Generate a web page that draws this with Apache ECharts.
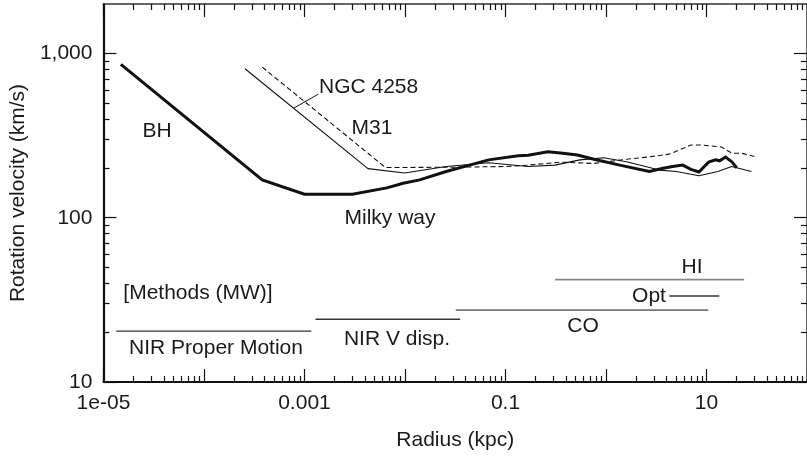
<!DOCTYPE html>
<html>
<head>
<meta charset="utf-8">
<script src="https://cdn.jsdelivr.net/npm/echarts@6/dist/echarts.min.js"></script>
<style>
html,body{margin:0;padding:0;background:#fff;}
#chart{width:807px;height:456px;}
</style>
</head>
<body>
<div id="chart"></div>
<script>
// ---- data (radius kpc, rotation velocity km/s) ----
const milkyWay = [
  [1.49e-5, 858], [3.8e-4, 170], [0.001, 139], [0.003, 139], [0.0066, 152],
  [0.0096, 162], [0.014, 170], [0.0257, 191], [0.068, 225], [0.134, 238],
  [0.168, 240], [0.264, 252], [0.354, 248], [0.52, 241], [0.76, 227],
  [1.37, 209], [2.7, 191], [3.7, 200], [4.6, 205], [5.8, 209], [7.0, 197],
  [8.4, 190], [10.5, 218], [12.3, 225], [13.5, 222], [15.5, 234], [18, 218], [20, 201]
];
const m31 = [
  [2.56e-4, 807], [0.00428, 199], [0.0099, 187], [0.0257, 205], [0.068, 216],
  [0.168, 205], [0.31, 209], [0.55, 225], [0.95, 232], [1.6, 219], [3.4, 195],
  [5.0, 191], [8.4, 180], [13, 191], [17.8, 205], [28, 191]
];
const ngc4258 = [
  [3.8e-4, 826], [0.0064, 202], [0.03, 203], [0.1, 205], [0.168, 209],
  [0.35, 218], [0.76, 214], [1.6, 227], [2.6, 234], [4.27, 244], [7.0, 277],
  [8.8, 277], [14, 270], [17.9, 247], [22.3, 247], [30, 236]
];
const leaderNGC = [[7.8e-4, 464], [0.00137, 565]];

// methods ranges: [radius, level] start and end
const methodNIRPM = [[1.34e-5, 20.4], [0.00117, 20.4]];
const methodNIRV  = [[0.00129, 24.1], [0.0354, 24.1]];
const methodCO    = [[0.032, 27.4], [10.4, 27.4]];
const methodHI    = [[0.311, 42], [23.7, 42]];
const methodOpt   = [[4.27, 33.4], [13.4, 33.4]];

// ticks / labels
const xMajorTicks = [1e-5, 1e-4, 1e-3, 1e-2, 0.1, 1, 10, 100];
const xLabelValues = [1e-5, 1e-3, 0.1, 10];
const xLabelTexts = ['1e-05', '0.001', '0.1', '10'];
const yMajorTicks = [10, 100, 1000];
const yLabelValues = [10, 100, 1000];
const yLabelTexts = ['10', '100', '1,000'];

const xMinorTicks = [];
for (let k = -5; k <= 1; k++) for (let m = 2; m <= 9; m++) xMinorTicks.push(m * Math.pow(10, k));
const yMinorTicks = [];
for (let k = 1; k <= 2; k++) for (let m = 2; m <= 9; m++) yMinorTicks.push(m * Math.pow(10, k));

const FONT = '"Liberation Sans", Arial, Helvetica, sans-serif';
const FS = 21;
const TXT = '#1a1a1a';

function lookup(vals, texts) {
  return function (v) {
    for (let i = 0; i < vals.length; i++) {
      if (Math.abs(Math.log10(v) - Math.log10(vals[i])) < 1e-6) return texts[i];
    }
    return '';
  };
}

function logAxis(extra) {
  return Object.assign({
    type: 'log', logBase: 10, gridIndex: 0,
    splitLine: {show: false}, minorTick: {show: false}, minorSplitLine: {show: false},
    axisLabel: {show: false}, axisLine: {show: false}, axisPointer: {show: false}
  }, extra);
}

const xMin = 1e-5, xMax = 100, yMin = 10, yMax = 2000;

const xAxes = [
  logAxis({
    position: 'bottom', min: xMin, max: xMax,
    axisLine: {show: true, onZero: false, lineStyle: {color: '#111', width: 2}},
    axisTick: {show: true, inside: true, length: 13, customValues: xMajorTicks, lineStyle: {color: '#111', width: 1.2}},
    axisLabel: {show: true, customValues: xLabelValues, formatter: lookup(xLabelValues, xLabelTexts),
      fontSize: FS, fontFamily: FONT, color: TXT, margin: 11},
    name: 'Radius (kpc)', nameLocation: 'middle', nameGap: 48,
    nameTextStyle: {fontSize: FS, fontFamily: FONT, color: TXT}
  }),
  logAxis({
    position: 'bottom', min: xMin, max: xMax,
    axisTick: {show: true, inside: true, length: 6, customValues: xMinorTicks, lineStyle: {color: '#111', width: 1.2}}
  }),
  logAxis({
    position: 'top', min: xMin, max: xMax,
    axisLine: {show: true, onZero: false, lineStyle: {color: '#333', width: 1.5}},
    axisTick: {show: true, inside: true, length: 13, customValues: xMajorTicks, lineStyle: {color: '#111', width: 1.2}}
  }),
  logAxis({
    position: 'top', min: xMin, max: xMax,
    axisTick: {show: true, inside: true, length: 6, customValues: xMinorTicks, lineStyle: {color: '#111', width: 1.2}}
  })
];

const yAxes = [
  logAxis({
    position: 'left', min: yMin, max: yMax,
    axisLine: {show: true, onZero: false, lineStyle: {color: '#111', width: 2.2}},
    axisTick: {show: true, inside: true, length: 13, customValues: yMajorTicks, lineStyle: {color: '#111', width: 1.2}},
    axisLabel: {show: true, customValues: yLabelValues, formatter: lookup(yLabelValues, yLabelTexts),
      fontSize: FS, fontFamily: FONT, color: TXT, margin: 11},
    name: 'Rotation velocity (km/s)', nameLocation: 'middle', nameGap: 72, nameRotate: 90,
    nameTextStyle: {fontSize: FS, fontFamily: FONT, color: TXT}
  }),
  logAxis({
    position: 'left', min: yMin, max: yMax,
    axisTick: {show: true, inside: true, length: 6, customValues: yMinorTicks, lineStyle: {color: '#111', width: 1.2}}
  }),
  logAxis({
    position: 'right', min: yMin, max: yMax,
    axisLine: {show: true, onZero: false, lineStyle: {color: '#333', width: 1.5}},
    axisTick: {show: true, inside: true, length: 13, customValues: yMajorTicks, lineStyle: {color: '#111', width: 1.2}}
  }),
  logAxis({
    position: 'right', min: yMin, max: yMax,
    axisTick: {show: true, inside: true, length: 6, customValues: yMinorTicks, lineStyle: {color: '#111', width: 1.2}}
  })
];

function lineSeries(name, data, style) {
  return {
    name: name, type: 'line', data: data, xAxisIndex: 0, yAxisIndex: 0,
    showSymbol: false, symbol: 'none', silent: true, animation: false,
    lineStyle: style, z: 3
  };
}

function textEl(text, x, y, align) {
  return {
    type: 'text', x: x, y: y, silent: true,
    style: {text: text, fill: TXT, font: FS + 'px ' + FONT,
      align: align || 'center', verticalAlign: 'middle',
      textAlign: align || 'center', textVerticalAlign: 'middle'}
  };
}

const chart = echarts.init(document.getElementById('chart'), null, {renderer: 'canvas'});
chart.setOption({
  animation: false,
  backgroundColor: '#ffffff',
  grid: {left: 99, right: -6, top: 4, bottom: 73, containLabel: false},
  xAxis: xAxes,
  yAxis: yAxes,
  series: [
    lineSeries('NIR Proper Motion', methodNIRPM, {color: '#333', width: 1.4}),
    lineSeries('NIR V disp.', methodNIRV, {color: '#333', width: 1.4}),
    lineSeries('CO', methodCO, {color: '#777', width: 1.6}),
    lineSeries('HI', methodHI, {color: '#888', width: 1.6}),
    lineSeries('Opt', methodOpt, {color: '#333', width: 1.4}),
    lineSeries('NGC 4258 leader', leaderNGC, {color: '#111', width: 1}),
    lineSeries('NGC 4258', ngc4258, {color: '#111', width: 1.1, type: [5, 3]}),
    lineSeries('M31', m31, {color: '#111', width: 1.1}),
    lineSeries('Milky way', milkyWay, {color: '#111', width: 3, join: 'miter'})
  ],
  graphic: [
    textEl('BH', 157, 131),
    textEl('NGC 4258', 319, 87, 'left'),
    textEl('M31', 372, 128),
    textEl('Milky way', 390, 218),
    textEl('[Methods (MW)]', 198, 293),
    textEl('NIR Proper Motion', 216, 348),
    textEl('NIR V disp.', 397, 339),
    textEl('CO', 583, 326),
    textEl('HI', 692, 267),
    textEl('Opt', 649, 296)
  ]
});
</script>
</body>
</html>
